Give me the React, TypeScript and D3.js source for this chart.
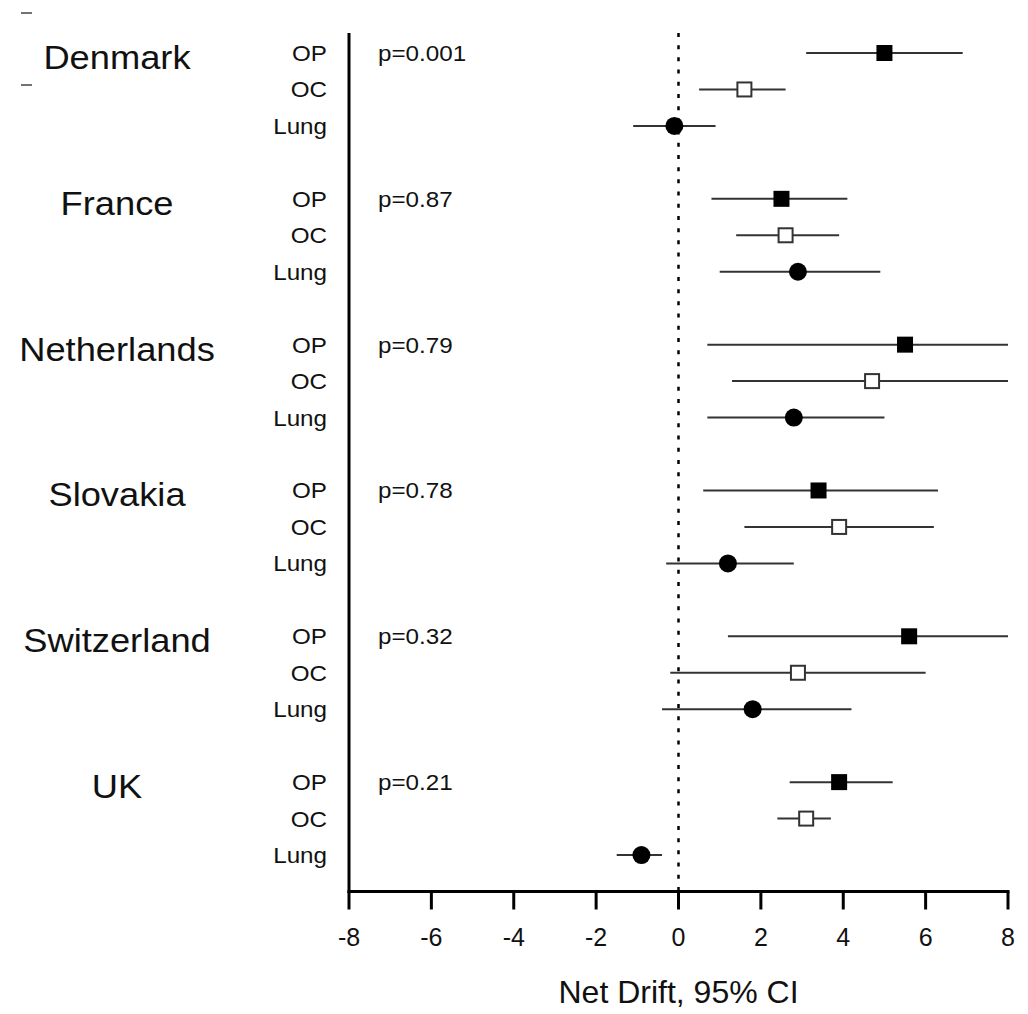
import React from 'react';
import * as d3 from 'd3';

const countries = ['Denmark', 'France', 'Netherlands', 'Slovakia', 'Switzerland', 'UK'];
const sites = ['OP', 'OC', 'Lung'];
const pValues = ['p=0.001', 'p=0.87', 'p=0.79', 'p=0.78', 'p=0.32', 'p=0.21'];

// net drift estimate, per country: [OP, OC, Lung]
const estimate = [
  [5.0, 1.6, -0.1],
  [2.5, 2.6, 2.9],
  [5.5, 4.7, 2.8],
  [3.4, 3.9, 1.2],
  [5.6, 2.9, 1.8],
  [3.9, 3.1, -0.9],
];
const lower = [
  [3.1, 0.5, -1.1],
  [0.8, 1.4, 1.0],
  [0.7, 1.3, 0.7],
  [0.6, 1.6, -0.3],
  [1.2, -0.2, -0.4],
  [2.7, 2.4, -1.5],
];
const upper = [
  [6.9, 2.6, 0.9],
  [4.1, 3.9, 4.9],
  [8.0, 8.0, 5.0],
  [6.3, 6.2, 2.8],
  [8.0, 6.0, 4.2],
  [5.2, 3.7, -0.4],
];
const xTicks = [-8, -6, -4, -2, 0, 2, 4, 6, 8];

const W = 1028;
const H = 1014;
const font = 'Arial, "Liberation Sans", Helvetica, sans-serif';

export default function App() {
  const x = d3.scaleLinear().domain([-8, 8]).range([349, 1008]);
  // one slot per row, an empty slot between countries
  const y = d3.scaleLinear().domain([0, 23]).range([53, 891.5]);
  const slot = (c: number, s: number) => c * 4 + s;
  const axisY = y(23);
  const topY = y(-0.55);

  const rows = countries.flatMap((c, ci) =>
    sites.map((s, si) => ({
      ci,
      si,
      est: estimate[ci][si],
      lo: lower[ci][si],
      hi: upper[ci][si],
    }))
  );

  return (
    <svg
      width={W}
      height={H}
      style={{ position: 'absolute', left: 0, top: 0, background: '#fff' }}
      fontFamily={font}
    >
      <rect width={W} height={H} fill="#fff" />
      {/* stray marks at top left */}
      <line x1={21} x2={32} y1={13} y2={13} stroke="#444" strokeWidth={1.5} />
      <line x1={21} x2={32} y1={85} y2={85} stroke="#444" strokeWidth={1.5} />

      {/* zero reference */}
      <line
        x1={x(0)}
        x2={x(0)}
        y1={topY}
        y2={axisY}
        stroke="#000"
        strokeWidth={2.5}
        strokeDasharray="4 8.2"
      />

      {/* axes */}
      <line x1={x(-8)} x2={x(-8)} y1={topY} y2={axisY + 1.5} stroke="#000" strokeWidth={3} />
      <line x1={x(-8) - 1.5} x2={x(8) + 1.5} y1={axisY} y2={axisY} stroke="#000" strokeWidth={3} />
      {xTicks.map((t) => (
        <g key={t}>
          <line x1={x(t)} x2={x(t)} y1={axisY} y2={axisY + 18} stroke="#000" strokeWidth={3} />
          <text x={x(t)} y={axisY + 54} textAnchor="middle" fontSize={25} fill="#111">
            {t}
          </text>
        </g>
      ))}
      <text x={x(0)} y={1003} textAnchor="middle" fontSize={32} fill="#111">
        Net Drift, 95% CI
      </text>

      {/* labels */}
      {countries.map((c, ci) => (
        <g key={c}>
          <g transform={`translate(117,${y(slot(ci, 0)) + 16}) scale(1.1,1)`}>
            <text textAnchor="middle" fontSize={33} fill="#111">
              {c}
            </text>
          </g>
          <g transform={`translate(378,${y(slot(ci, 0)) + 8}) scale(1.1,1)`}>
            <text fontSize={22} fill="#111">
              {pValues[ci]}
            </text>
          </g>
          {sites.map((s, si) => (
            <g key={s} transform={`translate(327,${y(slot(ci, si)) + 8}) scale(1.1,1)`}>
              <text textAnchor="end" fontSize={22} fill="#111">
                {s}
              </text>
            </g>
          ))}
        </g>
      ))}

      {/* intervals and markers */}
      {rows.map((r) => {
        const cy = y(slot(r.ci, r.si));
        const cx = x(r.est);
        return (
          <g key={`${r.ci}-${r.si}`}>
            <line x1={x(r.lo)} x2={x(r.hi)} y1={cy} y2={cy} stroke="#333" strokeWidth={2} />
            {r.si === 0 && <rect x={cx - 8} y={cy - 8} width={16} height={16} fill="#000" />}
            {r.si === 1 && (
              <rect x={cx - 7} y={cy - 7} width={14} height={14} fill="#fff" stroke="#333" strokeWidth={2} />
            )}
            {r.si === 2 && <circle cx={cx} cy={cy} r={9} fill="#000" />}
          </g>
        );
      })}
    </svg>
  );
}
